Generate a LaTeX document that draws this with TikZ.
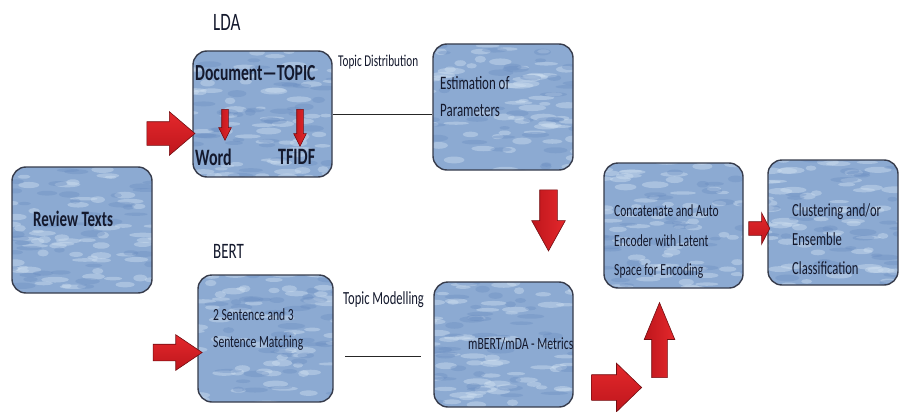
\documentclass[tikz,border=0pt]{standalone}
\usepackage{fontspec}
\setmainfont{Carlito}[FakeStretch=0.68]
\usetikzlibrary{shapes.arrows,calc}
\definecolor{sky}{RGB}{140,170,210}
\definecolor{skyd}{RGB}{105,140,192}
\definecolor{skyl}{RGB}{205,222,240}
\definecolor{ink}{RGB}{20,25,45}
\definecolor{arr}{RGB}{228,40,44}
\definecolor{arrl}{RGB}{248,160,160}
\definecolor{arrd}{RGB}{190,22,28}
\begin{document}
\begin{tikzpicture}[x=1pt,y=-1pt,
  box/.style 2 args={draw=ink!85, line width=1.4pt, rounded corners=14pt, fill=sky,
     minimum width=#1pt, minimum height=#2pt, inner sep=0pt, skytex},
  skytex/.style={path picture={
     \foreach \k in {1,...,70}{
       \pgfmathsetmacro\dx{(rnd-0.5)*150}\pgfmathsetmacro\dy{(rnd-0.5)*135}
       \pgfmathsetmacro\rr{5+9*rnd}\pgfmathsetmacro\ss{1.5+2*rnd}
       \fill[skyl,opacity=0.45] ([shift={(\dx pt,\dy pt)}]path picture bounding box.center)
          ellipse [x radius=\rr pt, y radius=\ss pt];}
     \foreach \k in {1,...,40}{
       \pgfmathsetmacro\dx{(rnd-0.5)*150}\pgfmathsetmacro\dy{(rnd-0.5)*135}
       \pgfmathsetmacro\rr{5+9*rnd}\pgfmathsetmacro\ss{1.5+2*rnd}
       \fill[skyd,opacity=0.35] ([shift={(\dx pt,\dy pt)}]path picture bounding box.center)
          ellipse [x radius=\rr pt, y radius=\ss pt];}
  }},
  txt/.style={text=ink, inner sep=0pt, anchor=west, align=left},
  conn/.style={draw=black!85, line width=1pt},
  harrow/.style={single arrow, draw=arrd!60!black, line width=0.6pt,
     top color=arr, middle color=arrl, bottom color=arrd, single arrow head indent=0pt},
  varrow/.style={single arrow, draw=arrd!60!black, line width=0.6pt,
     left color=arrd, middle color=arrl, right color=arr, single arrow head indent=0pt}
]
\pgfmathsetseed{42}
\fill[white] (0,0) rectangle (899,412);
\useasboundingbox (0,0) rectangle (899,412);

% boxes
\node[box={140}{126}] (rev) at (82,230) {};
\node[box={139}{126}] (lda) at (262.5,114) {};
\node[box={140}{126}] (est) at (503,107) {};
\node[box={135}{127}] (bert) at (265.5,338.5) {};
\node[box={139}{125}] (mb) at (503.5,344.5) {};
\node[box={139}{125}] (cat) at (673.5,225.5) {};
\node[box={130}{125}] (clu) at (833,222.5) {};

% titles
\node[txt, font=\fontsize{25}{27}\selectfont] (tlda) at (213,22) {LDA};
\node[txt, font=\fontsize{22}{24}\selectfont] (tbert) at (213,251) {BERT};
\node[txt, font=\fontsize{16.5}{18}\selectfont] (ttd) at (338,62) {Topic Distribution};
\node[txt, font=\fontsize{18.5}{20}\selectfont] (ttm) at (343,300) {Topic Modelling};

% box texts
\node[txt, font=\bfseries\fontsize{22}{24}\selectfont] (trev) at (33,219) {Review Texts};
\node[txt, font=\bfseries\fontsize{23}{25}\selectfont] (tdoc) at (195,73) {Document—TOPIC};
\node[txt, font=\bfseries\fontsize{23.5}{25}\selectfont] (tword) at (195,157) {Word};
\node[txt, font=\bfseries\fontsize{23.5}{25}\selectfont] (ttfidf) at (278,157) {TFIDF};
\node[txt, font=\fontsize{19}{27}\selectfont] (test) at (440,97) {Estimation of\\Parameters};
\node[txt, font=\fontsize{17}{27}\selectfont] (tsen) at (213,330) {2 Sentence and 3\\Sentence Matching};
\node[txt, font=\fontsize{17.2}{20}\selectfont] (tmb) at (468,344) {mBERT/mDA - Metrics};
\node[txt, font=\fontsize{17}{29.5}\selectfont] (tcat) at (614,242) {Concatenate and Auto\\Encoder with Latent\\Space for Encoding};
\node[txt, font=\fontsize{18.5}{29}\selectfont] (tclu) at (792,239) {Clustering and/or\\Ensemble\\Classification};

% small arrows inside LDA
\node[varrow, minimum height=31pt, inner sep=3pt, single arrow head extend=3pt,
      single arrow tip angle=53, shape border rotate=270] (d1) at (225,121.5) {};
\node[varrow, minimum height=37pt, inner sep=3pt, single arrow head extend=3pt,
      single arrow tip angle=53, shape border rotate=270] (d2) at (300,124.5) {};

% block arrows
\node[harrow, minimum height=48pt, inner sep=11.5pt, single arrow head extend=10pt,
      single arrow tip angle=81] (a1) at (164,133.5) {};
\node[harrow, minimum height=49pt, inner sep=8pt, single arrow head extend=9.5pt,
      single arrow tip angle=68] (a2) at (171.5,352.5) {};
\node[varrow, minimum height=61pt, inner sep=8.5pt, single arrow head extend=8pt,
      single arrow tip angle=58, shape border rotate=270] (a3) at (548.5,212.5) {};
\node[harrow, minimum height=50pt, inner sep=12.5pt, single arrow head extend=11.5pt,
      single arrow tip angle=88] (a4) at (610,387.5) {};
\node[varrow, minimum height=75pt, inner sep=7.5pt, single arrow head extend=7.5pt,
      single arrow tip angle=45, shape border rotate=90] (a5) at (659.5,349.5) {};
\node[harrow, minimum height=21pt, inner sep=6.5pt, single arrow head extend=9pt,
      single arrow tip angle=125] (a6) at (757.5,228.5) {};

% connectors
\draw[conn] (lda.east) -- (lda.east -| est.west);
\coordinate (tm1) at (345,356);
\coordinate (tm2) at (421,356);
\draw[conn] (tm1) -- (tm2);
\end{tikzpicture}
\end{document}
